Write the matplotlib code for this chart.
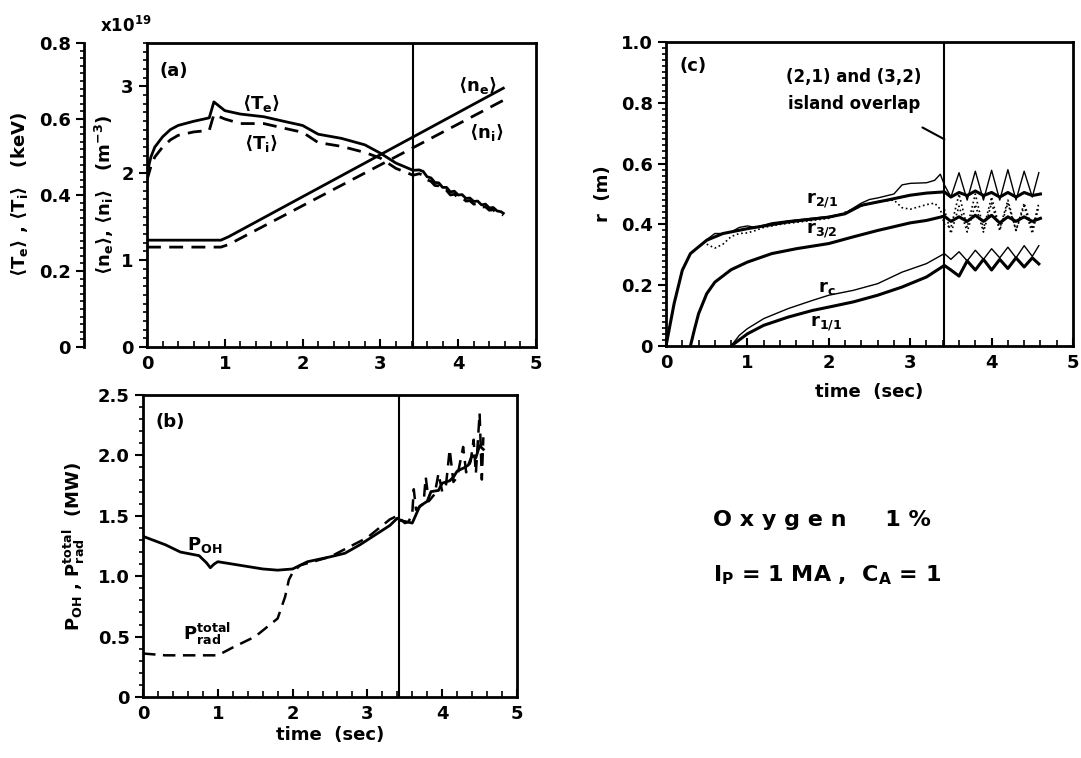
import numpy as np
import matplotlib
matplotlib.use('Agg')
import matplotlib.pyplot as plt
from matplotlib.ticker import MultipleLocator

plt.rcParams['font.family'] = ['DejaVu Sans']
plt.rcParams['font.weight'] = 'bold'
plt.rcParams['axes.labelweight'] = 'bold'
plt.rcParams['mathtext.fontset'] = 'custom'
plt.rcParams['mathtext.rm'] = 'DejaVu Sans:bold'
plt.rcParams['mathtext.it'] = 'DejaVu Sans:bold'
plt.rcParams['mathtext.bf'] = 'DejaVu Sans:bold'

T_OVERLAP = 3.42  # time of (2,1)/(3,2) island overlap

# ---- (a) average temperatures (keV) and densities (1e19 m^-3)
t_te = [0, 0.05, 0.1, 0.2, 0.3, 0.4, 0.6, 0.8, 0.86, 1.0, 1.2, 1.5, 1.8, 2.0, 2.2, 2.5,
        2.8, 3.0, 3.2, 3.42, 3.5, 3.55, 3.6, 3.65, 3.7, 3.75, 3.8, 3.85, 3.9, 3.95, 4.0,
        4.05, 4.1, 4.15, 4.2, 4.25, 4.3, 4.35, 4.4, 4.45, 4.5, 4.55, 4.58]
te = [0.457, 0.500, 0.526, 0.553, 0.572, 0.583, 0.594, 0.603, 0.645, 0.622, 0.613, 0.606,
      0.592, 0.583, 0.560, 0.549, 0.532, 0.510, 0.484, 0.465, 0.466, 0.462, 0.448, 0.445,
      0.433, 0.432, 0.420, 0.420, 0.408, 0.410, 0.400, 0.401, 0.391, 0.392, 0.383, 0.384,
      0.374, 0.376, 0.366, 0.367, 0.358, 0.356, 0.352]
ti = [0.439, 0.475, 0.500, 0.526, 0.545, 0.557, 0.566, 0.570, 0.612, 0.600, 0.588, 0.588,
      0.574, 0.565, 0.538, 0.528, 0.512, 0.497, 0.470, 0.452, 0.456, 0.452, 0.440, 0.436,
      0.425, 0.424, 0.412, 0.412, 0.400, 0.402, 0.393, 0.393, 0.384, 0.385, 0.376, 0.377,
      0.368, 0.369, 0.360, 0.361, 0.352, 0.350, 0.347]

t_n = [0, 0.95, 1.05, 4.58]
ne = [1.23, 1.23, 1.27, 2.98]
ni = [1.15, 1.15, 1.18, 2.84]

# ---- (b) ohmic and total radiated power (MW)
t_poh = [0, 0.3, 0.5, 0.75, 0.85, 0.9, 0.95, 1.0, 1.3, 1.6, 1.8, 2.0, 2.2, 2.5, 2.7, 2.9,
         3.1, 3.3, 3.4, 3.45, 3.6, 3.7, 3.75, 3.8, 3.85, 3.95, 4.0, 4.1, 4.15, 4.2, 4.3,
         4.35, 4.4, 4.45, 4.5, 4.55]
poh = [1.33, 1.26, 1.20, 1.17, 1.11, 1.07, 1.10, 1.12, 1.09, 1.06, 1.05, 1.06, 1.12, 1.16,
       1.19, 1.26, 1.34, 1.42, 1.48, 1.46, 1.44, 1.58, 1.60, 1.62, 1.70, 1.71, 1.77, 1.79,
       1.82, 1.87, 1.90, 1.92, 2.00, 1.98, 2.08, 2.05]
t_prad = [0, 0.3, 1.0, 1.2, 1.5, 1.8, 1.9, 1.95, 2.0, 2.1, 2.5, 3.0, 3.3, 3.4, 3.5, 3.55,
          3.6, 3.62, 3.65, 3.75, 3.78, 3.82, 3.9, 3.95, 4.0, 4.05, 4.1, 4.15, 4.2, 4.28,
          4.32, 4.38, 4.42, 4.45, 4.5, 4.53, 4.55]
prad = [0.36, 0.345, 0.345, 0.41, 0.50, 0.65, 0.83, 0.97, 1.03, 1.09, 1.16, 1.32, 1.47,
        1.50, 1.44, 1.45, 1.52, 1.72, 1.55, 1.60, 1.82, 1.62, 1.68, 1.85, 1.70, 1.75, 2.05,
        1.78, 1.82, 2.07, 1.86, 1.95, 2.13, 1.85, 2.35, 1.80, 2.15]

# ---- (c) rational surface radii and island edges (m)
t_r21 = [0, 0.1, 0.2, 0.3, 0.5, 0.7, 1.0, 1.5, 2.0, 2.2, 2.4, 2.7, 3.0, 3.2, 3.42, 3.5,
         3.6, 3.7, 3.8, 3.9, 4.0, 4.1, 4.2, 4.3, 4.4, 4.5, 4.6]
r21 = [0, 0.14, 0.249, 0.304, 0.348, 0.370, 0.386, 0.408, 0.424, 0.435, 0.463, 0.479,
       0.496, 0.503, 0.507, 0.49, 0.505, 0.495, 0.51, 0.495, 0.505, 0.49, 0.505, 0.49,
       0.505, 0.495, 0.50]
t_r21o = [0.5, 0.6, 0.7, 0.8, 0.9, 1.0, 1.1, 1.3, 1.5, 2.0, 2.2, 2.4, 2.5, 2.6, 2.8, 2.9,
          3.0, 3.2, 3.3, 3.37, 3.42, 3.5, 3.6, 3.7, 3.8, 3.9, 4.0, 4.1, 4.2, 4.3, 4.4, 4.5,
          4.58]
r21o = [0.35, 0.37, 0.37, 0.375, 0.39, 0.395, 0.39, 0.405, 0.412, 0.426, 0.437, 0.47, 0.482,
        0.487, 0.50, 0.53, 0.535, 0.537, 0.545, 0.565, 0.53, 0.49, 0.57, 0.48, 0.575, 0.48,
        0.578, 0.48, 0.58, 0.48, 0.575, 0.49, 0.57]
t_r21i = [0.5, 0.6, 0.7, 0.8, 0.9, 1.0, 1.1, 1.2, 1.4, 2.0, 2.4, 2.6, 2.8, 2.9, 3.0, 3.2,
          3.3, 3.37, 3.42, 3.5, 3.6, 3.7, 3.8, 3.9, 4.0, 4.1, 4.2, 4.3, 4.4, 4.5, 4.58]
r21i = [0.335, 0.322, 0.335, 0.36, 0.37, 0.372, 0.38, 0.39, 0.40, 0.42, 0.46, 0.475, 0.48,
        0.455, 0.45, 0.465, 0.47, 0.45, 0.40, 0.39, 0.50, 0.39, 0.50, 0.385, 0.49, 0.385,
        0.48, 0.38, 0.47, 0.385, 0.47]
t_r32 = [0.3, 0.35, 0.4, 0.5, 0.6, 0.8, 1.0, 1.3, 1.6, 2.0, 2.3, 2.6, 3.0, 3.2, 3.42, 3.5,
         3.6, 3.7, 3.8, 3.9, 4.0, 4.1, 4.2, 4.3, 4.4, 4.5, 4.6]
r32 = [0, 0.055, 0.106, 0.172, 0.21, 0.251, 0.276, 0.304, 0.32, 0.337, 0.359, 0.38, 0.405,
       0.413, 0.427, 0.41, 0.425, 0.41, 0.43, 0.41, 0.43, 0.405, 0.425, 0.41, 0.425, 0.41,
       0.42]
t_r32d = [3.42, 3.5, 3.6, 3.7, 3.8, 3.9, 4.0, 4.1, 4.2, 4.3, 4.4, 4.5, 4.58]
r32d = [0.45, 0.37, 0.46, 0.375, 0.465, 0.375, 0.47, 0.38, 0.47, 0.38, 0.46, 0.37, 0.46]
t_rc = [0.8, 0.9, 1.0, 1.2, 1.5, 1.8, 2.0, 2.3, 2.6, 2.9, 3.2, 3.42, 3.5, 3.6, 3.7, 3.8,
        3.9, 4.0, 4.1, 4.2, 4.3, 4.4, 4.5, 4.58]
rc = [0, 0.035, 0.057, 0.09, 0.123, 0.15, 0.167, 0.183, 0.205, 0.243, 0.271, 0.304, 0.285,
      0.31, 0.28, 0.315, 0.285, 0.32, 0.29, 0.325, 0.29, 0.33, 0.295, 0.33]
t_r11 = [0.8, 1.0, 1.2, 1.5, 1.8, 2.0, 2.3, 2.6, 2.9, 3.2, 3.42, 3.5, 3.6, 3.7, 3.8, 3.9,
         4.0, 4.1, 4.2, 4.3, 4.4, 4.5, 4.58]
r11 = [0, 0.04, 0.068, 0.095, 0.117, 0.128, 0.145, 0.167, 0.194, 0.227, 0.265, 0.25, 0.23,
       0.28, 0.25, 0.285, 0.25, 0.285, 0.255, 0.29, 0.26, 0.29, 0.27]

fig = plt.figure(figsize=(10.81, 7.58), dpi=100)
W, H = 1081, 758


def frame(x0, x1, y0, y1):
    return [x0 / W, 1 - y1 / H, (x1 - x0) / W, (y1 - y0) / H]


ax_a = fig.add_axes(frame(147, 536, 43, 347))
ax_b = fig.add_axes(frame(143, 517, 395, 697))
ax_c = fig.add_axes(frame(666, 1073, 42, 346))


def style(ax, ymajor, yminor):
    for s in ax.spines.values():
        s.set_linewidth(2)
    ax.set_xlim(0, 5)
    ax.xaxis.set_major_locator(MultipleLocator(1))
    ax.xaxis.set_minor_locator(MultipleLocator(0.2))
    ax.yaxis.set_major_locator(MultipleLocator(ymajor))
    ax.yaxis.set_minor_locator(MultipleLocator(yminor))
    ax.tick_params(axis='x', which='both', direction='in', top=False, labelsize=13, pad=6)
    ax.tick_params(axis='x', which='major', length=6, width=1.5)
    ax.tick_params(axis='x', which='minor', length=4, width=1.2)
    ax.tick_params(axis='y', which='both', direction='out', right=False, labelsize=13)
    ax.tick_params(axis='y', which='major', length=6, width=1.5)
    ax.tick_params(axis='y', which='minor', length=3, width=1.2)
    ax.axvline(T_OVERLAP, color='k', lw=1.5)


def one_decimal(v, pos):
    # zero is written bare, everything else with one decimal
    return '0' if abs(v) < 1e-9 else '%.1f' % v


# (a)
style(ax_a, 1, 0.1)
ax_a.set_ylim(0, 3.5)
ax_a.plot(t_n, ne, 'k-', lw=2)
ax_a.plot(t_n, ni, 'k--', lw=2, dashes=(5, 3))
ax_a.set_ylabel(r'$\langle$n$_e\rangle$, $\langle$n$_i\rangle$   (m$^{-3}$)', fontsize=13,
                labelpad=4)
ax_a.text(-0.12, 1.035, r'x10$^{19}$', transform=ax_a.transAxes, fontsize=12)
ax_a.text(0.34, 3.18, '(a)', fontsize=13, va='center', ha='center')
ax_a.text(1.46, 2.80, r'$\langle$T$_e\rangle$', fontsize=13, ha='center', va='center')
ax_a.text(1.46, 2.34, r'$\langle$T$_i\rangle$', fontsize=13, ha='center', va='center')
ax_a.text(4.24, 3.01, r'$\langle$n$_e\rangle$', fontsize=13, ha='center', va='center')
ax_a.text(4.36, 2.47, r'$\langle$n$_i\rangle$', fontsize=13, ha='center', va='center')

ax_t = ax_a.twinx()
ax_t.set_ylim(0, 0.8)
ax_t.plot(t_te, te, 'k-', lw=2)
ax_t.plot(t_te, ti, 'k--', lw=2, dashes=(5, 3))
ax_t.spines['left'].set_visible(True)
ax_t.spines['left'].set_position(('axes', -0.162))
ax_t.spines['left'].set_linewidth(2)
ax_t.spines['right'].set_visible(False)
ax_t.spines['top'].set_visible(False)
ax_t.spines['bottom'].set_visible(False)
ax_t.yaxis.tick_left()
ax_t.yaxis.set_label_position('left')
ax_t.yaxis.set_major_locator(MultipleLocator(0.2))
ax_t.yaxis.set_minor_locator(MultipleLocator(0.02))
ax_t.yaxis.set_major_formatter(plt.FuncFormatter(one_decimal))
ax_t.tick_params(axis='y', which='both', direction='out', labelsize=13)
ax_t.tick_params(axis='y', which='major', length=6, width=1.5)
ax_t.tick_params(axis='y', which='minor', length=3, width=1.2)
ax_t.set_ylabel(r'$\langle$T$_e\rangle$ , $\langle$T$_i\rangle$   (keV)', fontsize=13,
                labelpad=6)
ax_a.set_zorder(ax_t.get_zorder() + 1)
ax_a.patch.set_visible(False)

# (b)
style(ax_b, 0.5, 0.1)
ax_b.set_ylim(0, 2.5)
ax_b.yaxis.set_major_formatter(plt.FuncFormatter(one_decimal))
ax_b.plot(t_poh, poh, 'k-', lw=2)
ax_b.plot(t_prad, prad, 'k--', lw=1.8, dashes=(5, 3))
ax_b.set_xlabel('time  (sec)', fontsize=13, labelpad=2)
ax_b.set_ylabel(r'P$_{OH}$ , P$_{rad}^{total}$  (MW)', fontsize=13, labelpad=8)
ax_b.text(0.37, 2.28, '(b)', fontsize=13, ha='center', va='center')
ax_b.text(0.83, 1.26, r'P$_{OH}$', fontsize=13, ha='center', va='center')
ax_b.text(0.85, 0.52, r'P$_{rad}^{total}$', fontsize=13, ha='center', va='center')

# (c)
style(ax_c, 0.2, 0.02)
ax_c.set_ylim(0, 1.0)
ax_c.yaxis.set_major_formatter(plt.FuncFormatter(one_decimal))
ax_c.plot(t_r21o, r21o, 'k-', lw=1)
ax_c.plot(t_r21i, r21i, 'k:', lw=1.2)
ax_c.plot(t_r32d, r32d, 'k:', lw=1.2)
ax_c.plot(t_r21, r21, 'k-', lw=2.2)
ax_c.plot(t_r32, r32, 'k-', lw=2.2)
ax_c.plot(t_rc, rc, 'k-', lw=1)
ax_c.plot(t_r11, r11, 'k-', lw=2.2)
ax_c.set_xlabel('time  (sec)', fontsize=13, labelpad=8)
ax_c.set_ylabel('r  (m)', fontsize=13, labelpad=6)
ax_c.text(0.33, 0.92, '(c)', fontsize=13, ha='center', va='center')
ax_c.text(1.92, 0.48, r'r$_{2/1}$', fontsize=13, ha='center', va='center')
ax_c.text(1.92, 0.38, r'r$_{3/2}$', fontsize=13, ha='center', va='center')
ax_c.text(1.97, 0.19, r'r$_c$', fontsize=13, ha='center', va='center')
ax_c.text(1.97, 0.075, r'r$_{1/1}$', fontsize=13, ha='center', va='center')
ax_c.annotate('(2,1) and (3,2)\nisland overlap', xy=(T_OVERLAP, 0.68), xytext=(2.31, 0.84),
              fontsize=12, ha='center', va='center', linespacing=1.6,
              arrowprops=dict(arrowstyle='-', color='k', lw=1.5, shrinkA=18, shrinkB=0))

# run conditions
fig.text(713 / W, 1 - 520 / H, 'O x y g e n     1 %', fontsize=16, va='center')
fig.text(713 / W, 1 - 575 / H, r'I$_P$ = 1 MA ,  C$_A$ = 1', fontsize=16, va='center')

fig.savefig('out.png', dpi=100)
